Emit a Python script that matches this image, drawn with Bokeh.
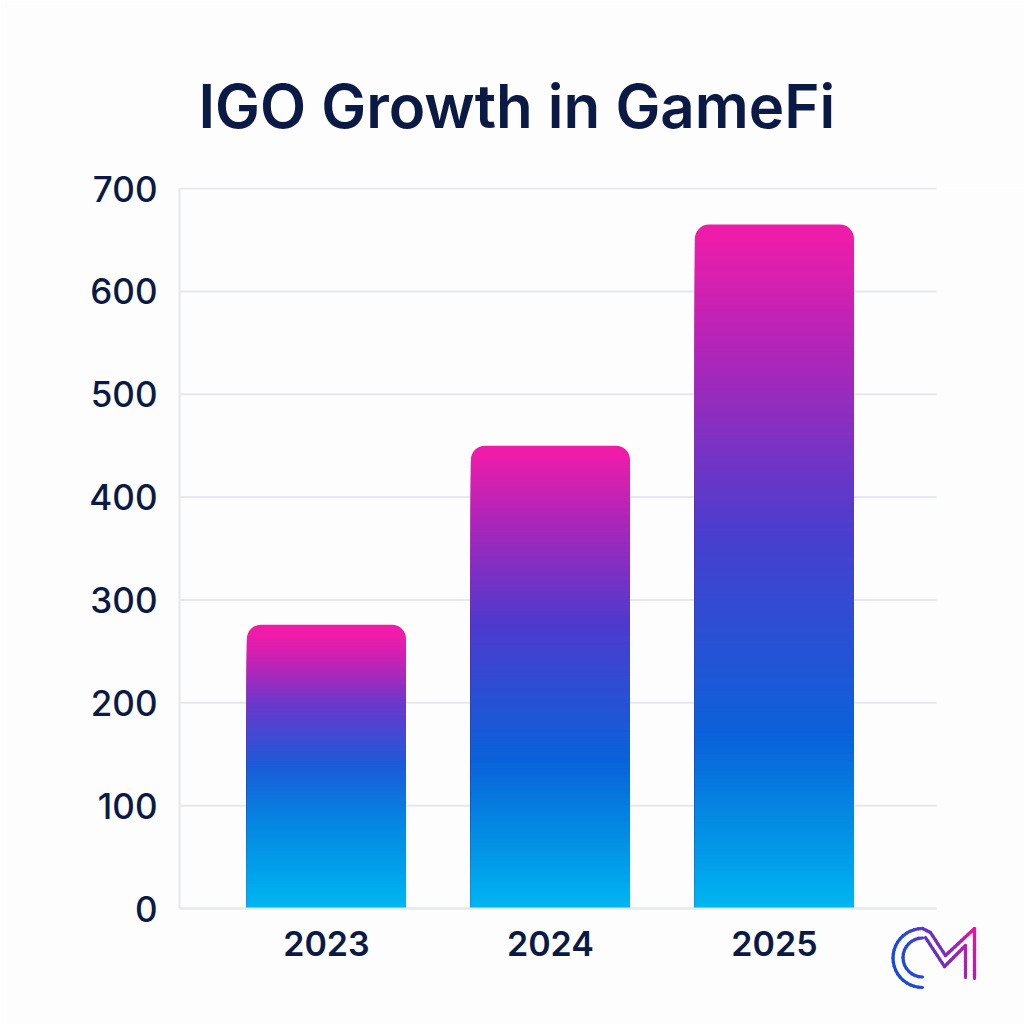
import math
from bokeh.plotting import figure
from bokeh.models import Title, FixedTicker
from bokeh.embed import file_html
from bokeh.resources import INLINE

years = ["2023", "2024", "2025"]
values = [276, 450, 665]
y_ticks = [0, 100, 200, 300, 400, 500, 600, 700]
title_text = "IGO Growth in GameFi"

BG = "#FDFDFE"
INK = "#0B1A45"
GRID = "#E6E8EB"

stops = {
    "2023": [(0, "#00B6F1"), (0.30, "#0487E2"), (0.50, "#1A5CD8"), (0.72, "#6A38CC"), (0.90, "#D41FB0"), (1, "#F41CA8")],
    "2024": [(0, "#00B6F1"), (0.18, "#0487E2"), (0.32, "#0A62DA"), (0.62, "#4F3ACD"), (0.85, "#B225B8"), (1, "#F41CA8")],
    "2025": [(0, "#00B6F1"), (0.14, "#0487E2"), (0.25, "#0A62DA"), (0.55, "#4A3ECE"), (0.82, "#B225B8"), (1, "#F41CA8")],
}


def rgb(h):
    return tuple(int(h[i:i + 2], 16) for i in (1, 3, 5))


def blend(ss, t):
    for (t0, c0), (t1, c1) in zip(ss, ss[1:]):
        if t <= t1:
            u = (t - t0) / (t1 - t0)
            a, b = rgb(c0), rgb(c1)
            return "#%02x%02x%02x" % tuple(round(x + (y - x) * u) for x, y in zip(a, b))
    return ss[-1][1]


# The frame runs to the canvas edge so the corner logo is not clipped;
# gridlines are drawn only across the chart region inside it.
PX_X = 224.0
PX_Y = 720 / 700
X0, X1 = -0.656, 2.723
x_end = X0 + (1024 - 179) / PX_X
y_start = -(1024 - 908) / PX_Y

p = figure(width=1024, height=1024, output_backend="svg", toolbar_location=None,
           x_range=(X0, x_end), y_range=(y_start, 701),
           min_border_left=179, min_border_right=0, min_border_top=187, min_border_bottom=0,
           background_fill_color=BG, border_fill_color=BG, outline_line_color=None)

p.title = Title(text=title_text, align="left", offset=19, standoff=92,
                text_font="Inter SemiBold", text_font_size="60px", text_font_style="normal", text_color=INK)

p.segment(x0=[X0] * len(y_ticks), x1=[X1] * len(y_ticks), y0=y_ticks, y1=y_ticks,
          line_color=GRID, line_width=2)

BAR_W = 0.71
SLICES = 160
for i, (yr, v) in enumerate(zip(years, values)):
    ss = stops[yr]
    p.vbar(x=[i], top=[v], bottom=[0], width=BAR_W, fill_color=blend(ss, 0.985), line_color=None,
           border_radius=14)
    cut = 1 - 14 / PX_Y / v
    left, right, tops, colors = [], [], [], []
    for k in range(SLICES, 0, -1):
        f = cut * k / SLICES
        left.append(i - BAR_W / 2)
        right.append(i + BAR_W / 2)
        tops.append(v * f)
        colors.append(blend(ss, f - 0.5 * cut / SLICES))
    p.quad(left=left, right=right, bottom=0, top=tops, fill_color=colors, line_color=None)

p.xaxis.fixed_location = 0
p.xaxis.bounds = (X0, X1)
p.yaxis.bounds = (0, 700)
p.xaxis.ticker = FixedTicker(ticks=[0, 1, 2])
p.xaxis.major_label_overrides = {i: y for i, y in enumerate(years)}
p.yaxis.ticker = FixedTicker(ticks=y_ticks)
for ax in (p.xaxis[0], p.yaxis[0]):
    ax.axis_line_color = GRID
    ax.axis_line_width = 2
    ax.major_tick_line_color = None
    ax.minor_tick_line_color = None
    ax.major_label_text_color = INK
p.xaxis.major_label_text_font = "Inter SemiBold"
p.yaxis.major_label_text_font = "Inter Medium"
p.xaxis.major_label_text_font_size = "34px"
p.xaxis.major_label_standoff = 16
p.yaxis.major_label_text_font_size = "35px"
p.yaxis.major_label_standoff = 16
p.grid.grid_line_color = None

# Corner logo, traced in picture pixels
LOGO_STOPS = [(0, "#0F4CDA"), (0.30, "#2A48D0"), (0.55, "#6A30C0"), (0.82, "#B020B0"), (1, "#EC10A0")]


def to_x(px):
    return X0 + (px - 179) / PX_X


def to_y(py):
    return (908 - py) / PX_Y


def logo_color(x, y):
    t = max(0, min(1, (x - 893) / 81 * 0.8 + (987 - y) / 60 * 0.2))
    return blend(LOGO_STOPS, t)


def stroke(pts):
    xs, ys, cs = [], [], []
    for (x0, y0), (x1, y1) in zip(pts, pts[1:]):
        n = max(1, int(math.hypot(x1 - x0, y1 - y0) / 4))
        for j in range(n):
            ax, ay = x0 + (x1 - x0) * j / n, y0 + (y1 - y0) * j / n
            bx, by = x0 + (x1 - x0) * (j + 1) / n, y0 + (y1 - y0) * (j + 1) / n
            xs.append([to_x(ax), to_x(bx)])
            ys.append([to_y(ay), to_y(by)])
            cs.append(logo_color((ax + bx) / 2, (ay + by) / 2))
    p.multi_line(xs=xs, ys=ys, line_color=cs, line_width=3.2, line_cap="round")


def arc(cx, cy, r, a0, a1, n):
    return [(cx + r * math.cos(math.radians(a0 + (a1 - a0) * k / n)),
             cy + r * math.sin(math.radians(a0 + (a1 - a0) * k / n))) for k in range(n + 1)]


stroke(arc(922, 957.5, 29.5, 90, 270, 22) + [(930, 932), (945, 955), (974, 928), (974, 978)])
stroke(arc(922, 957, 19.5, 90, 270, 16))
stroke([(925, 937), (944, 966), (965, 945), (965, 977)])

open("out.html", "w").write(file_html(p, INLINE))
